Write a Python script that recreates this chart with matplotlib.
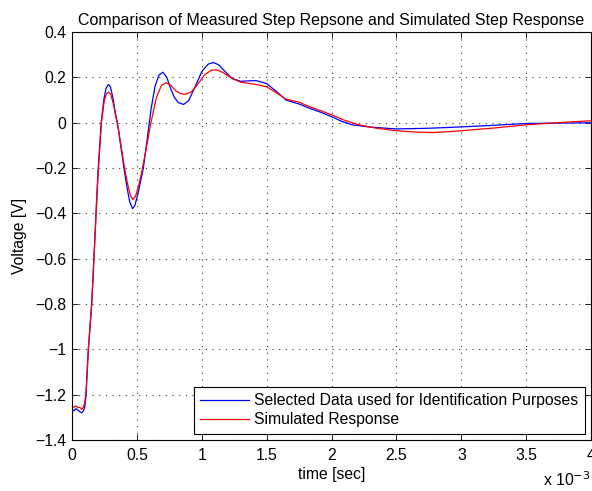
import numpy as np
import matplotlib.pyplot as plt
from matplotlib.ticker import FuncFormatter

plt.rcParams['font.family'] = ['Liberation Sans', 'DejaVu Sans']
plt.rcParams['font.size'] = 11.3

# mesure (temps en ms, tension en V)
t_meas = [0.000, 0.015, 0.031, 0.046, 0.062, 0.075, 0.087, 0.098, 0.108, 0.126,
          0.152, 0.169, 0.185, 0.200, 0.225, 0.245, 0.262, 0.280, 0.295, 0.315,
          0.335, 0.350, 0.375, 0.400, 0.425, 0.445, 0.467, 0.485, 0.510, 0.530,
          0.550, 0.580, 0.610, 0.640, 0.670, 0.700, 0.730, 0.760, 0.790, 0.820,
          0.860, 0.900, 0.950, 1.000, 1.050, 1.090, 1.130, 1.180, 1.236, 1.300,
          1.360, 1.420, 1.500, 1.580, 1.650, 1.750, 1.830, 1.920, 2.000, 2.080,
          2.160, 2.300, 2.500, 2.750, 3.000, 3.250, 3.500, 3.750, 4.000]
v_meas = [-1.265, -1.272, -1.262, -1.268, -1.277, -1.280, -1.272, -1.257, -1.207, -1.000,
          -0.800, -0.600, -0.400, -0.220, 0.000, 0.100, 0.150, 0.168, 0.160, 0.110,
          0.040, 0.000, -0.100, -0.200, -0.290, -0.350, -0.380, -0.365, -0.310, -0.255,
          -0.200, -0.070, 0.063, 0.160, 0.210, 0.222, 0.200, 0.150, 0.110, 0.088,
          0.080, 0.098, 0.160, 0.225, 0.258, 0.265, 0.255, 0.225, 0.194, 0.182,
          0.184, 0.185, 0.172, 0.135, 0.099, 0.082, 0.063, 0.045, 0.026, 0.005,
          -0.010, -0.020, -0.028, -0.025, -0.019, -0.012, -0.004, -0.002, -0.001]

# simulation
t_sim = [0.000, 0.015, 0.031, 0.046, 0.062, 0.075, 0.087, 0.098, 0.108, 0.126,
         0.152, 0.169, 0.186, 0.202, 0.227, 0.247, 0.265, 0.282, 0.298, 0.318,
         0.340, 0.355, 0.380, 0.405, 0.430, 0.450, 0.470, 0.490, 0.515, 0.540,
         0.570, 0.610, 0.650, 0.690, 0.726, 0.760, 0.800, 0.840, 0.875, 0.920,
         0.970, 1.020, 1.070, 1.110, 1.160, 1.236, 1.300, 1.420, 1.500, 1.580,
         1.650, 1.750, 1.830, 1.920, 2.000, 2.100, 2.210, 2.350, 2.500, 2.650,
         2.780, 2.900, 3.000, 3.250, 3.500, 3.750, 4.000]
v_sim = [-1.257, -1.255, -1.250, -1.257, -1.257, -1.265, -1.257, -1.235, -1.190, -1.000,
         -0.800, -0.600, -0.400, -0.220, 0.000, 0.090, 0.128, 0.134, 0.125, 0.085,
         0.020, -0.020, -0.110, -0.200, -0.275, -0.320, -0.340, -0.325, -0.275, -0.210,
         -0.120, 0.005, 0.110, 0.165, 0.176, 0.165, 0.140, 0.127, 0.125, 0.135,
         0.170, 0.210, 0.230, 0.233, 0.222, 0.194, 0.178, 0.168, 0.158, 0.130,
         0.103, 0.090, 0.070, 0.052, 0.034, 0.010, -0.010, -0.025, -0.036, -0.042,
         -0.044, -0.040, -0.036, -0.024, -0.010, 0.000, 0.008]


def fmt(val, pos):
    s = '%g' % round(val, 3)
    if s in ('0', '-0'):
        return '0'
    return s.replace('-', '\u2212')


fig = plt.figure(figsize=(5.92, 4.91), dpi=100)
ax = fig.add_axes([0.1216, 0.104, 0.877, 0.831])

ax.plot(np.array(t_meas) * 1e-3, v_meas, color='blue', lw=0.9,
        label='Selected Data used for Identification Purposes')
ax.plot(np.array(t_sim) * 1e-3, v_sim, color='red', lw=0.9,
        label='Simulated Response')

ax.set_xlim(0, 4e-3)
ax.set_ylim(-1.4, 0.4)
ax.set_xticks(np.arange(0, 4.01e-3, 0.5e-3))
ax.set_yticks(np.arange(-1.4, 0.41, 0.2))
ax.xaxis.set_major_formatter(FuncFormatter(lambda x, p: fmt(x * 1e3, p)))
ax.yaxis.set_major_formatter(FuncFormatter(fmt))
ax.tick_params(direction='in', top=True, right=True, length=4, width=0.6, pad=4)
ax.tick_params(axis='x', pad=6)
ax.grid(True, color='black', linestyle=(0, (1, 5)), linewidth=0.8, alpha=0.8)
for s in ax.spines.values():
    s.set_linewidth(0.8)

ax.set_xlabel('time [sec]', labelpad=3)
ax.set_ylabel('Voltage [V]', labelpad=6)
ax.set_title('Comparison of Measured Step Repsone and Simulated Step Response',
             fontsize=11.5, pad=5)
fig.text(0.918, 0.024, r'x 10$^{-3}$', ha='left', va='center')

leg = ax.legend(loc='lower right', fancybox=False, edgecolor='black', framealpha=1,
                borderpad=0.4, labelspacing=0.25, handlelength=3.1, handletextpad=0.35,
                borderaxespad=0.4)
leg.get_frame().set_linewidth(0.8)

fig.savefig('out.png', dpi=100)
